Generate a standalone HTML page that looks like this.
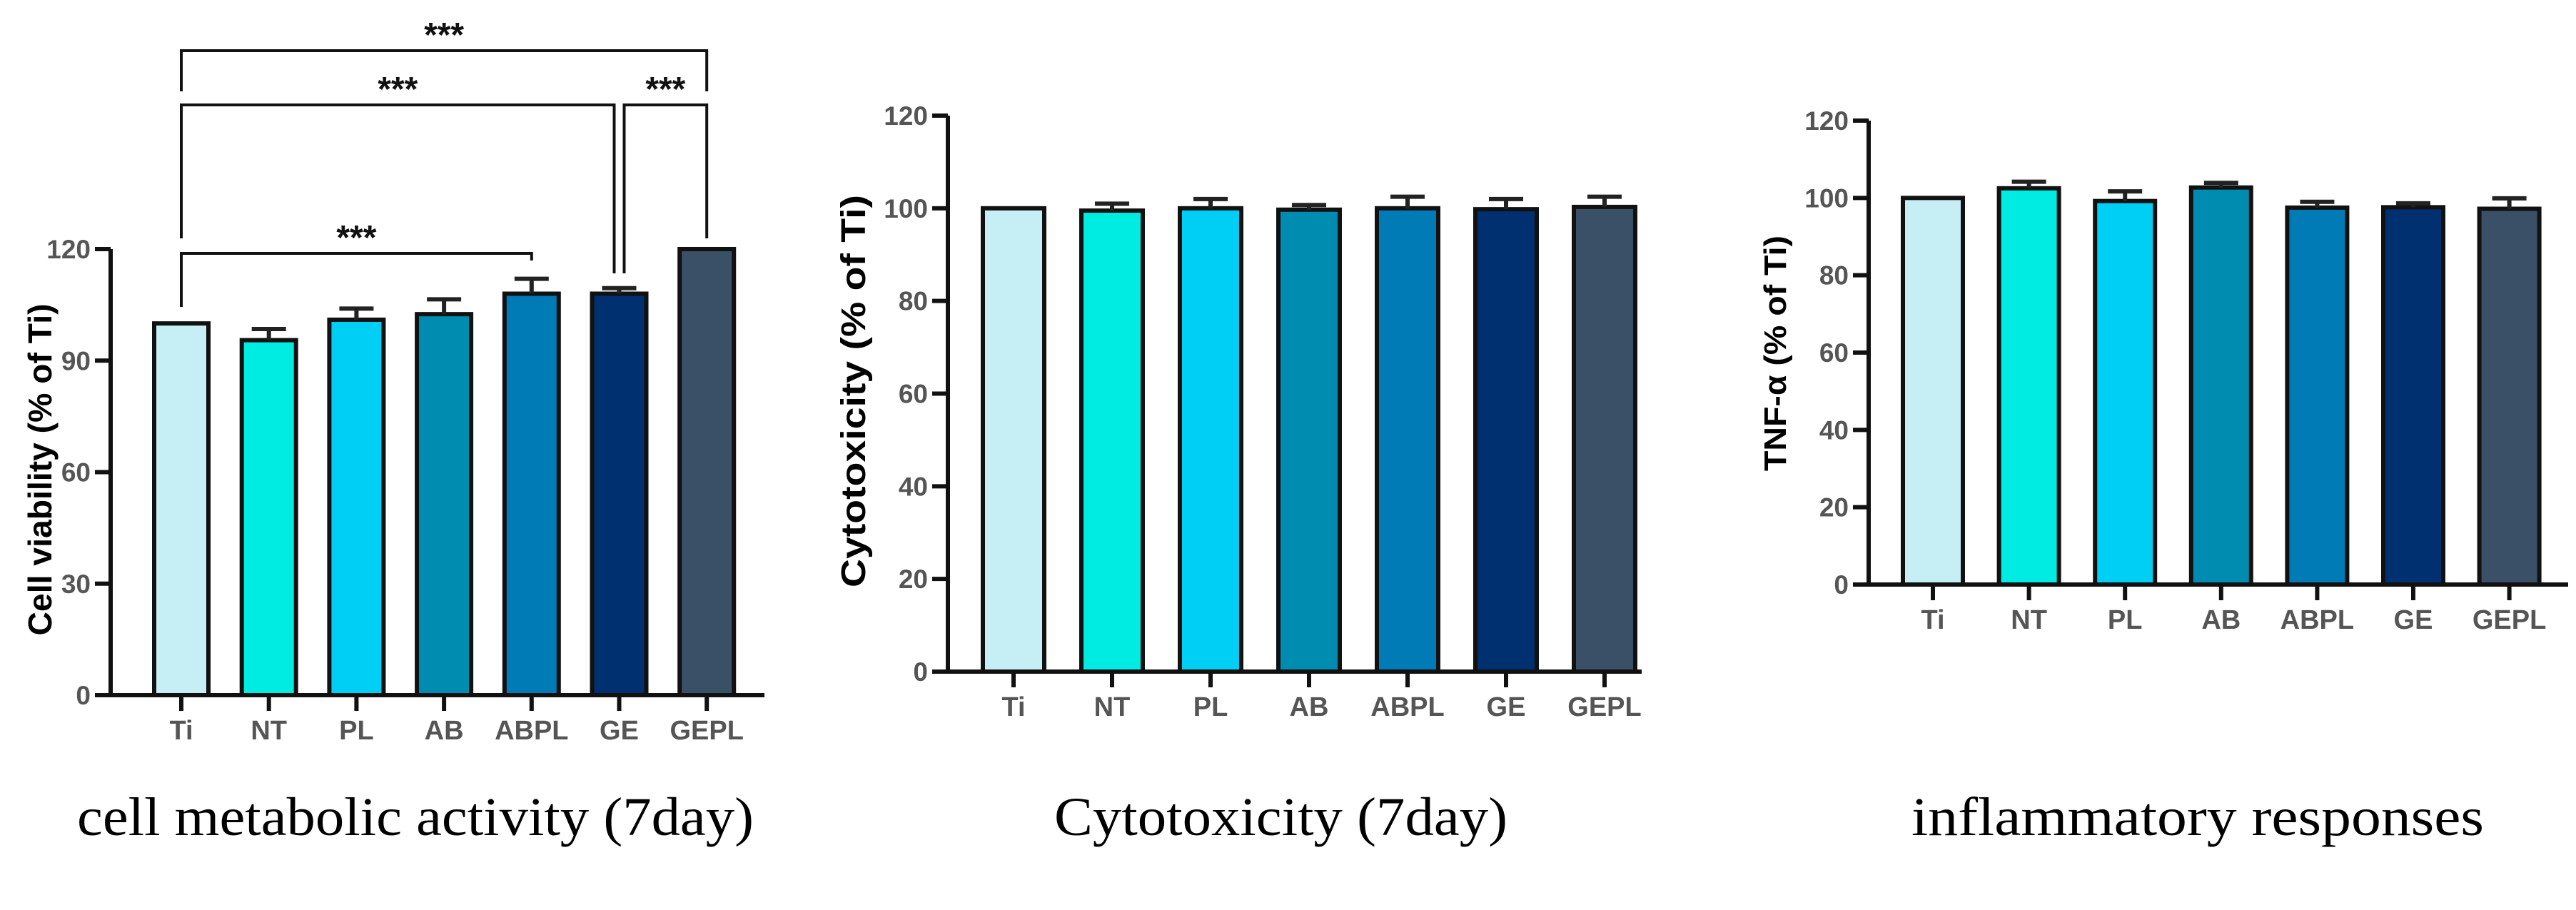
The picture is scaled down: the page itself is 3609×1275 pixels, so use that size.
<!DOCTYPE html>
<html><head><meta charset="utf-8"><style>
html,body{margin:0;padding:0;background:#fff;}
svg{display:block;}
</style></head><body>
<svg id="fig" width="3609" height="1275" viewBox="0 0 3609 1275" xmlns="http://www.w3.org/2000/svg" font-family="Liberation Sans, Arial, sans-serif">
<text x="108" y="1170" font-family="Liberation Serif, serif" font-size="76" textLength="948" lengthAdjust="spacingAndGlyphs">cell metabolic activity (7day)</text>
<text x="1477" y="1170" font-family="Liberation Serif, serif" font-size="76" textLength="635" lengthAdjust="spacingAndGlyphs">Cytotoxicity (7day)</text>
<text x="2678" y="1170" font-family="Liberation Serif, serif" font-size="76" textLength="802" lengthAdjust="spacingAndGlyphs">inflammatory responses</text>
</svg>
<script>
const categories = ["Ti","NT","PL","AB","ABPL","GE","GEPL"];
const colors = ["#c6eef5","#00ebe2","#00cff5","#008cb0","#007bb6","#00306f","#3a5066"];
const viabilityValues = [100,95.5,101,102.5,108,108,120];
const viabilityErrors = [0,3,3,4,4,1.5,0];
const viabilityTicks = [0,30,60,90,120];
const cytoValues = [100,99.5,100,99.7,100,99.8,100.3];
const cytoErrors = [0,1.5,2,1,2.5,2.2,2.2];
const cytoTicks = [0,20,40,60,80,100,120];
const tnfValues = [100,102.5,99.2,102.7,97.5,97.6,97.2];
const tnfErrors = [0,1.7,2.5,1.2,1.5,1,2.7];
const tnfTicks = [0,20,40,60,80,100,120];
const sigPairs = [[0,6],[0,5],[5,6],[0,4]];
const sigLabels = ["***","***","***","***"];

const NS="http://www.w3.org/2000/svg";
const svg=document.getElementById('fig');
function mk(tag,attrs,parent){const e=document.createElementNS(NS,tag);for(const k in attrs)e.setAttribute(k,attrs[k]);(parent||svg).appendChild(e);return e;}

function drawChart(c){
  const g=mk('g',{});
  
  
  const yS=v=>c.y0-(v/c.ymax)*(c.y0-c.yTop);
  const xS=i=>c.x0c+i*c.step;
  c.values.forEach((v,i)=>{
    const r=mk('rect',{x:xS(i)-c.bw/2,y:yS(v),width:c.bw,height:c.y0-yS(v),fill:colors[i],stroke:'#111','stroke-width':6},g);
    
    
    const e=c.errors[i];
    if(e>0){
      const p=mk('path',{d:`M${xS(i)} ${yS(v)} V${yS(v+e)} M${xS(i)-24} ${yS(v+e)} H${xS(i)+24}`,stroke:'#222','stroke-width':6,fill:'none'},g);
      
      
    }
    const t=mk('path',{d:`M${xS(i)} ${c.y0} V${c.y0+22}`,stroke:'#111','stroke-width':6},g);
    
    
    const l=mk('text',{x:xS(i),y:c.y0+62,'text-anchor':'middle','font-size':38,'font-weight':'bold',fill:'#555'},g);
    l.textContent=categories[i];
    
    
  });
  const ax=mk('path',{d:`M${c.axX} ${c.yTop} V${c.y0} H${c.xEnd}`,stroke:'#111','stroke-width':6,fill:'none'},g);
  
  
  c.ticks.forEach(v=>{
    const t=mk('path',{d:`M${c.axX-22} ${yS(v)} H${c.axX}`,stroke:'#111','stroke-width':6},g);
    
    
    const l=mk('text',{x:c.axX-28,y:yS(v)+13,'text-anchor':'end','font-size':37,'font-weight':'bold',fill:'#555'},g);
    l.textContent=v;
    
    
  });
  const tt=mk('text',{transform:`translate(${c.titleX},${c.titleY}) rotate(-90)`,'text-anchor':'middle','font-size':c.titleFs,'font-weight':'bold',fill:'#000',textLength:c.titleLen,lengthAdjust:'spacingAndGlyphs'},g);
  tt.textContent=c.title;
  
  
  return {g,xS,yS};
}

const c1=drawChart({name:'chart-cell-viability',values:viabilityValues,errors:viabilityErrors,ticks:viabilityTicks,ymax:120,y0:974,yTop:349,x0c:254,step:122.7,bw:76,axX:155,xEnd:1071,title:'Cell viability (% of Ti)',titleX:72,titleY:658,titleFs:46,titleLen:465});
drawChart({name:'chart-cytotoxicity',values:cytoValues,errors:cytoErrors,ticks:cytoTicks,ymax:120,y0:941,yTop:162,x0c:1420,step:138,bw:86,axX:1328,xEnd:2300,title:'Cytotoxicity (% of Ti)',titleX:1212,titleY:548,titleFs:48,titleLen:550});
drawChart({name:'chart-tnf-alpha',values:tnfValues,errors:tnfErrors,ticks:tnfTicks,ymax:120,y0:819,yTop:169,x0c:2708,step:134.6,bw:84,axX:2618,xEnd:3598,title:'TNF-α (% of Ti)',titleX:2502,titleY:495,titleFs:44,titleLen:330});

const bracketY=[71,147,147,355];
const legEnds=[[128,128],[334,383],[383,334],[430,365]];
sigPairs.forEach((p,k)=>{
  let xa=c1.xS(p[0]), xb=c1.xS(p[1]);
  if(k===1) xb-=7;
  if(k===2) xa+=7;
  const y=bracketY[k];
  const b=mk('path',{d:`M${xa} ${legEnds[k][0]} V${y} H${xb} V${legEnds[k][1]}`,stroke:'#111','stroke-width':4,fill:'none'},c1.g);
  
  
  const t=mk('text',{x:(xa+xb)/2,y:y-6,'text-anchor':'middle','font-size':48,'font-weight':'bold',fill:'#111'},c1.g);
  t.textContent=sigLabels[k];
  
  
});
</script>
</body></html>
